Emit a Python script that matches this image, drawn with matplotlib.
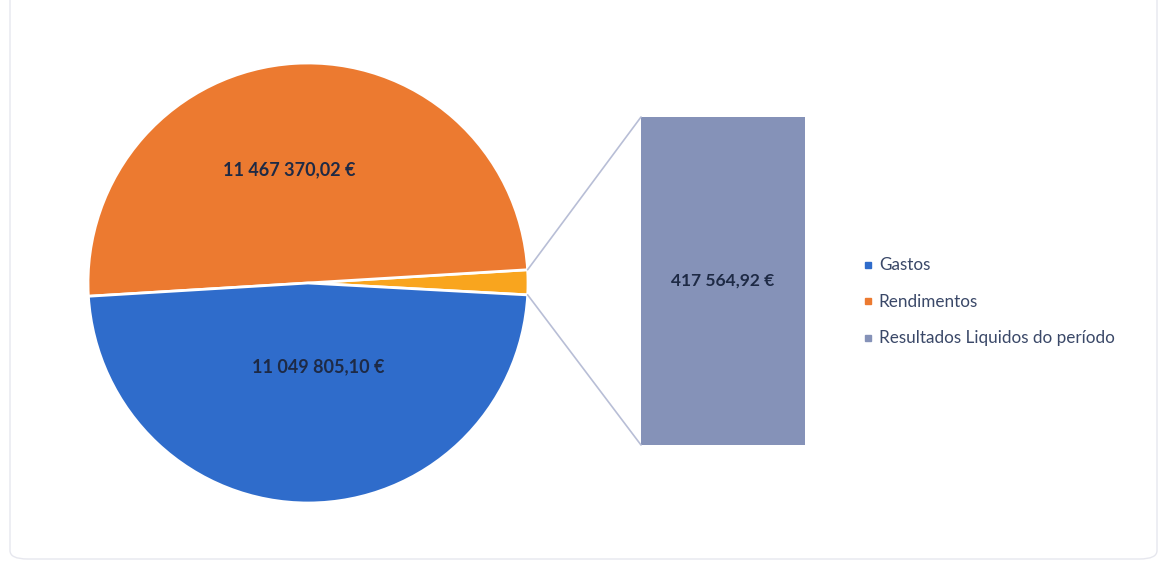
import matplotlib
matplotlib.use("Agg")
import matplotlib.pyplot as plt
from matplotlib.patches import ConnectionPatch, FancyBboxPatch
from matplotlib.lines import Line2D
import numpy as np

plt.rcParams['font.family'] = ['Lato', 'DejaVu Sans']

# ---- data ----
categories = ["Gastos", "Rendimentos", "Resultados Liquidos do período"]
gastos = 11049805.10
rendimentos = 11467370.02
resultado = 417564.92
value_labels = ["11 049 805,10 €", "11 467 370,02 €", "417 564,92 €"]

# ---- styles ----
c_blue = "#2F6CCB"
c_orange = "#EC7A30"
c_yellow = "#F9A51E"
c_bar = "#8592B8"
c_text = "#1E2A45"
c_legend = "#3A4868"
c_line = "#B8BED6"

W, H = 1163, 562
fig = plt.figure(figsize=(W / 100, H / 100), dpi=100)
fig.patch.set_facecolor("white")

def fax(x0, y0, x1, y1):
    """figure axes from pixel box (top-left origin)"""
    return fig.add_axes([x0 / W, 1 - y1 / H, (x1 - x0) / W, (y1 - y0) / H])

# frame
frame = FancyBboxPatch((10 / W, 3 / H), (1147 / W), (590 / H),
                       boxstyle="round,pad=0,rounding_size=0.015",
                       transform=fig.transFigure, facecolor="none",
                       edgecolor="#E6E7EE", linewidth=1.0, zorder=0)
fig.patches.append(frame)

# ---- pie ----
cx, cy, r = 308, 283, 220
axp = fax(cx - r, cy - r, cx + r, cy + r)
pie_vals = [resultado, rendimentos, gastos]
wedges, _ = axp.pie(pie_vals, colors=[c_yellow, c_orange, c_blue],
                    startangle=-3.1, counterclock=True, radius=1,
                    wedgeprops=dict(edgecolor="white", linewidth=2))
axp.set_xlim(-1.0, 1.0)
axp.set_ylim(-1.0, 1.0)
axp.set_aspect("equal")
axp.axis("off")

axp.text(-0.085, 0.515, value_labels[1], ha="center", va="center",
         fontsize=13, fontweight="bold", color=c_text)
axp.text(0.045, -0.38, value_labels[0], ha="center", va="center",
         fontsize=13, fontweight="bold", color=c_text)

# ---- bar ----
axb = fax(641, 117, 805, 445)
axb.bar([0], [resultado], width=1.0, color=c_bar)
axb.set_xlim(-0.5, 0.5)
axb.set_ylim(0, resultado)
axb.axis("off")
axb.text(0, resultado / 2, value_labels[2], ha="center", va="center",
         fontsize=12.5, fontweight="bold", color=c_text)

# ---- connector lines ----
w = wedges[0]
for ang, yb in [(w.theta2, resultado), (w.theta1, 0)]:
    a = np.deg2rad(ang)
    con = ConnectionPatch(xyA=(np.cos(a), np.sin(a)), coordsA=axp.transData,
                          xyB=(-0.5, yb), coordsB=axb.transData,
                          color=c_line, linewidth=1.2)
    fig.add_artist(con)

# ---- legend ----
handles = [Line2D([0], [0], marker="s", linestyle="none", markersize=5,
                  markerfacecolor=c, markeredgecolor=c)
           for c in [c_blue, c_orange, c_bar]]
leg = fig.legend(handles, categories, loc="center left",
                 bbox_to_anchor=(854 / W, 1 - 302 / H), frameon=False,
                 fontsize=12.3, labelspacing=1.2, handlelength=0.6,
                 handletextpad=0.35, borderpad=0)
for t in leg.get_texts():
    t.set_color(c_legend)

fig.savefig("out.png", dpi=100, facecolor="white")
